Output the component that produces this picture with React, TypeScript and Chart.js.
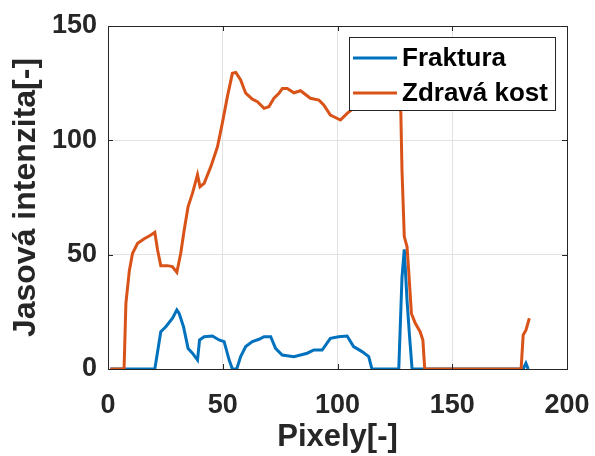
import React, { useEffect, useRef } from "react";
import { Chart, registerables } from "chart.js";
Chart.register(...registerables);

const fraktX = [1, 20.4, 23, 25.2, 28.1, 30, 31, 32.9, 34.9, 36.8, 39, 39.9, 41.9, 45.5, 48.4, 50.6, 52.8, 54.2, 56.1, 57.8, 60, 62.9, 65.8, 68, 70.9, 73, 75.9, 81, 86.8, 89.7, 93.3, 96.9, 100.5, 104.2, 107, 110.7, 113.6, 115, 126.7, 128.1, 129.1, 130.3, 131.3, 132.5, 180.9, 182.1, 183.1];
const fraktY = [0, 0, 16.3, 18.5, 22.2, 25.8, 24.3, 18.5, 9, 6.9, 3.9, 12.7, 14.1, 14.4, 12.7, 12, 3.9, 0, 0, 5.4, 9.8, 12, 13, 14.1, 14.1, 9, 6.1, 5.4, 6.9, 8.3, 8.3, 13.4, 14.1, 14.4, 9.8, 7.6, 5.4, 0, 0, 40, 52.3, 30, 15.6, 0, 0, 2.5, 0];

const kostX = [1, 7, 7.8, 9.3, 10.7, 12.9, 15.8, 18.7, 20.4, 21.6, 23, 25.9, 28, 30, 31.7, 33.2, 34.9, 36.8, 39, 40.1, 41.9, 44.8, 47.7, 49.8, 52, 54.2, 55.7, 57.8, 60, 62.9, 65.1, 68, 70.1, 72.3, 74.5, 76, 78.1, 81, 83.9, 88.2, 91.9, 94, 96.9, 101.3, 104.2, 107, 112, 118, 123, 127, 127.6, 128.1, 129.1, 130.3, 131, 132.2, 133.9, 136, 137.2, 138, 180, 180.9, 182.1, 183.6];
const kostY = [0, 0, 28.7, 43, 50.6, 55, 57, 58.6, 59.8, 52, 45.2, 45.2, 44.8, 42.3, 50.6, 60.8, 71, 76.8, 85, 79.7, 81.2, 88.5, 97.2, 107.4, 119, 129.3, 129.7, 126.4, 120.6, 118, 116.9, 114, 114.7, 118.4, 120.6, 122.7, 122.7, 120.8, 121.7, 118.4, 117.6, 115.5, 111, 108.9, 111.8, 114, 116, 118, 117, 116, 112, 87, 57.9, 53.5, 43.3, 24.3, 20, 16.3, 12.7, 0, 0, 14.9, 17, 22.2];

const xTicks = [0, 50, 100, 150, 200];
const yTicks = [0, 50, 100, 150];
const seriesNames = ["Fraktura", "Zdravá kost"];
const xTitle = "Pixely[-]";
const yTitle = "Jasová intenzita[-]";

const BLUE = "#0072BD";
const ORANGE = "#D95319";
const AXIS = "#262626";
const FONT = "'Liberation Sans', Arial, sans-serif";

const boxPlugin = {
  id: "matlabBox",
  afterDatasetsDraw(chart: any) {
    const { ctx, chartArea: a, scales } = chart;
    ctx.save();
    ctx.strokeStyle = AXIS;
    ctx.lineWidth = 1;
    const tl = 5;
    ctx.beginPath();
    xTicks.forEach((v) => {
      const px = Math.round(scales.x.getPixelForValue(v)) + 0.5;
      ctx.moveTo(px, a.bottom);
      ctx.lineTo(px, a.bottom - tl);
      ctx.moveTo(px, a.top);
      ctx.lineTo(px, a.top + tl);
    });
    yTicks.forEach((v) => {
      const py = Math.round(scales.y.getPixelForValue(v)) + 0.5;
      ctx.moveTo(a.left, py);
      ctx.lineTo(a.left + tl, py);
      ctx.moveTo(a.right, py);
      ctx.lineTo(a.right - tl, py);
    });
    ctx.stroke();
    ctx.strokeRect(Math.round(a.left) + 0.5, Math.round(a.top) + 0.5, Math.round(a.right - a.left), Math.round(a.bottom - a.top));

    // legend
    const lx = 349, ly = 37, lw = 206, lh = 73;
    ctx.fillStyle = "#ffffff";
    ctx.fillRect(lx, ly, lw, lh);
    ctx.strokeStyle = AXIS;
    ctx.lineWidth = 1;
    ctx.strokeRect(lx + 0.5, ly + 0.5, lw, lh);
    const rows = [
      { name: seriesNames[0], color: BLUE, y: 58 },
      { name: seriesNames[1], color: ORANGE, y: 93 },
    ];
    ctx.font = `bold 26px ${FONT}`;
    ctx.textBaseline = "middle";
    ctx.textAlign = "left";
    rows.forEach((r) => {
      ctx.strokeStyle = r.color;
      ctx.lineWidth = 3;
      ctx.beginPath();
      ctx.moveTo(353, r.y);
      ctx.lineTo(397, r.y);
      ctx.stroke();
      ctx.fillStyle = "#000000";
      ctx.fillText(r.name, 402, r.y + 1);
    });
    ctx.restore();
  },
};

export default function App() {
  const ref = useRef<HTMLCanvasElement>(null);
  useEffect(() => {
    const chart = new Chart(ref.current as HTMLCanvasElement, {
      type: "line",
      data: {
        datasets: [
          {
            label: seriesNames[1],
            data: kostX.map((x, i) => ({ x, y: kostY[i] })),
            borderColor: ORANGE,
            backgroundColor: ORANGE,
            borderWidth: 3,
            pointRadius: 0,
            tension: 0,
            order: 0,
          },
          {
            label: seriesNames[0],
            data: fraktX.map((x, i) => ({ x, y: fraktY[i] })),
            borderColor: BLUE,
            backgroundColor: BLUE,
            borderWidth: 3,
            pointRadius: 0,
            tension: 0,
            order: 1,
          },
        ],
      },
      options: {
        responsive: false,
        animation: false,
        layout: { padding: { left: 0, right: 28, top: 26, bottom: 0 } },
        plugins: { legend: { display: false }, tooltip: { enabled: false } },
        scales: {
          x: {
            type: "linear",
            min: 0,
            max: 200,
            afterBuildTicks: (s: any) => {
              s.ticks = xTicks.map((v) => ({ value: v }));
            },
            afterFit: (s: any) => {
              s.height = 87;
              s.paddingLeft = 0;
              s.paddingRight = 0;
            },
            grid: { color: "#e2e2e2", drawTicks: false },
            border: { display: false },
            ticks: { padding: 20, color: AXIS, font: { family: FONT, size: 27, weight: "bold" }, maxRotation: 0 },
            title: { display: true, text: xTitle, color: AXIS, font: { family: FONT, size: 31, weight: "bold" }, padding: { top: 0, bottom: 0 } },
          },
          y: {
            type: "linear",
            min: 0,
            max: 150,
            afterBuildTicks: (s: any) => {
              s.ticks = yTicks.map((v) => ({ value: v }));
            },
            afterFit: (s: any) => {
              s.width = 108;
              s.paddingTop = 0;
              s.paddingBottom = 0;
            },
            grid: { color: "#e2e2e2", drawTicks: false },
            border: { display: false },
            ticks: { padding: 11, color: AXIS, font: { family: FONT, size: 27, weight: "bold" } },
            title: { display: true, text: yTitle, color: AXIS, font: { family: FONT, size: 32, weight: "bold" }, padding: { top: 7, bottom: 0 } },
          },
        },
      },
      plugins: [boxPlugin],
    } as any);
    return () => chart.destroy();
  }, []);
  return (
    <div style={{ position: "fixed", left: 0, top: 0, width: 595, height: 456, background: "#ffffff" }}>
      <canvas ref={ref} width={595} height={456} style={{ display: "block" }} />
    </div>
  );
}
